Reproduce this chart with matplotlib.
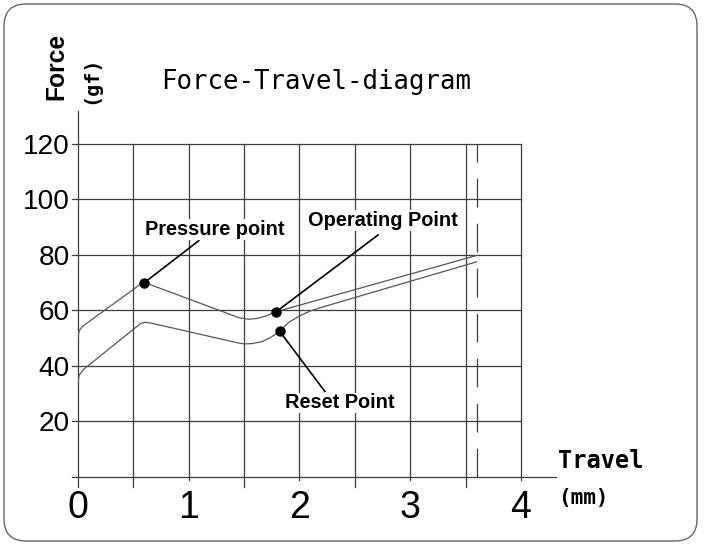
import matplotlib
matplotlib.use("Agg")
import matplotlib.pyplot as plt
from matplotlib.patches import FancyBboxPatch

# ---- data ----
travel_press = [0.00, 0.01, 0.04, 0.57, 0.60, 0.65, 1.45, 1.50, 1.55, 1.62, 1.70, 1.79, 3.60]
force_press = [50.5, 52.6, 54.2, 69.6, 70.0, 69.3, 57.4, 57.0, 56.8, 57.1, 58.0, 59.5, 79.8]

travel_release = [0.00, 0.01, 0.05, 0.57, 0.61, 0.66, 1.45, 1.50, 1.57, 1.66, 1.74, 1.82,
                  1.90, 2.00, 2.10, 2.20, 3.60]
force_release = [34.0, 36.6, 38.7, 55.4, 55.7, 55.4, 48.2, 47.9, 48.0, 48.7, 50.2, 52.5,
                 55.6, 58.0, 59.8, 61.1, 77.5]

point_names = ["Pressure point", "Operating Point", "Reset Point"]
point_x = [0.60, 1.79, 1.82]
point_y = [70.0, 59.5, 52.5]
leader_x = [1.09, 2.71, 2.23]
leader_y = [85.1, 87.2, 30.7]

x_ticks = [0, 1, 2, 3, 4]
y_ticks = [20, 40, 60, 80, 100, 120]
x_grid = [0.5, 1.0, 1.5, 2.0, 2.5, 3.0, 3.5, 4.0]
stroke_end = 3.6

title = "Force-Travel-diagram"

# ---- figure ----
fig = plt.figure(figsize=(7.04, 5.47), dpi=100)

bg = fig.add_axes([0, 0, 1, 1])
bg.set_xlim(0, 704)
bg.set_ylim(547, 0)
bg.axis("off")
bg.add_patch(FancyBboxPatch((4, 4), 693, 537,
                            boxstyle="round,pad=0,rounding_size=22",
                            fc="none", ec="#666666", lw=1.0))

ax = fig.add_axes([78 / 704, 70.3 / 547, 478.4 / 704, 366 / 547])
ax.set_xlim(0, 4.32)
ax.set_ylim(0, 132)
ax.axis("off")

gcol = "#3c3c3c"
glw = 0.9
# horizontal grid
for y in y_ticks:
    ax.plot([-0.054, 4.0], [y, y], color=gcol, lw=glw, clip_on=False, zorder=1)
# x axis
ax.plot([-0.054, 4.32], [0, 0], color=gcol, lw=glw, clip_on=False, zorder=1)
# y axis
ax.plot([0, 0], [-3.7, 132], color=gcol, lw=glw, clip_on=False, zorder=1)
# vertical grid
for xg in x_grid:
    bottom = -3.7 if (xg % 1) != 0 else -1.2
    ax.plot([xg, xg], [bottom, 120], color=gcol, lw=glw, clip_on=False, zorder=1)
# dashed stroke end
ax.plot([stroke_end, stroke_end], [0, 120], color=gcol, lw=glw,
        linestyle=(0, (23, 13)), zorder=1)

# curves
ccol = "#555555"
ax.plot(travel_press, force_press, color=ccol, lw=0.9, zorder=3)
ax.plot(travel_release, force_release, color=ccol, lw=0.9, zorder=3)

# points + leaders
for px, py, lx, ly in zip(point_x, point_y, leader_x, leader_y):
    ax.plot([px, lx], [py, ly], color="black", lw=1.2, zorder=4)
    ax.plot([px], [py], "o", color="black", ms=6.5, zorder=5)

sans = "Liberation Sans"
mono = "DejaVu Sans Mono"
box = dict(facecolor="white", edgecolor="none", pad=0.5)

ax.text(0.605, 87.2, point_names[0], family=sans, fontsize=14.4, fontweight="bold",
        ha="left", va="baseline", bbox=box, zorder=6)
ax.text(3.425, 90.4, point_names[1], family=sans, fontsize=14.4, fontweight="bold",
        ha="right", va="baseline", bbox=box, zorder=6)
ax.text(1.869, 24.7, point_names[2], family=sans, fontsize=14.4, fontweight="bold",
        ha="left", va="baseline", bbox=box, zorder=6)

# tick labels
for y in y_ticks:
    ax.text(-0.072, y - 3.6, str(y), family=sans, fontsize=20.2,
            ha="right", va="baseline", clip_on=False)
for xt in x_ticks:
    ax.text(xt, -14.9, str(xt), family=sans, fontsize=27,
            ha="center", va="baseline", clip_on=False)

# titles / axis labels
ax.text(2.149, 139.8, title, family=mono, fontsize=18.5,
        ha="center", va="baseline", clip_on=False)
ax.text(-0.199, 148.0, "Force", family=sans, fontsize=17.7, fontweight="bold",
        rotation=90, ha="center", va="center", clip_on=False)
ax.text(0.112, 143.1, "(gf)", family=mono, fontsize=14.5, fontweight="bold",
        rotation=90, ha="center", va="center", clip_on=False)
ax.text(4.333, 3.1, "Travel", family=mono, fontsize=17, fontweight="bold",
        ha="left", va="baseline", clip_on=False)
ax.text(4.333, -9.8, "(mm)", family=mono, fontsize=15, fontweight="bold",
        ha="left", va="baseline", clip_on=False)

fig.savefig("out.png", dpi=100)
